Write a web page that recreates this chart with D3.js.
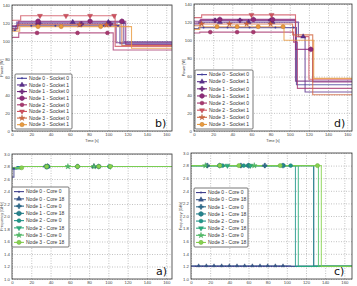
<!DOCTYPE html>
<html><head><meta charset="utf-8">
<script src="https://cdn.jsdelivr.net/npm/d3@7"></script>
<style>body{margin:0;background:#fff}svg{display:block}</style>
</head><body><svg id="c" width="357" height="286"></svg>
<script>
// ---------- labels / ticks ----------
const powerLabels = ["Node 0 - Socket 0","Node 0 - Socket 1","Node 1 - Socket 0","Node 1 - Socket 1","Node 2 - Socket 0","Node 2 - Socket 1","Node 3 - Socket 0","Node 3 - Socket 1"];
const freqLabels = ["Node 0 - Core 0","Node 0 - Core 18","Node 1 - Core 0","Node 1 - Core 18","Node 2 - Core 0","Node 2 - Core 18","Node 3 - Core 0","Node 3 - Core 18"];
const timeTicks = [0,20,40,60,80,100,120,140,160];
const powerTicks = [0,20,40,60,80,100,120,140];
const freqTicks = [1.0,1.2,1.4,1.6,1.8,2.0,2.2,2.4,2.6,2.8,3.0];
const powerColors = ["#45409a","#5b2f8c","#72287f","#8e2b7a","#a8386f","#d0515f","#d2673f","#e99a3e"];
const freqColors = ["#3f3f8c","#38578c","#2f6d8e","#25838d","#1f978a","#2aac7c","#4fc067","#86d24e"];
const markerTypes = ["point","triUp","plus","hex","circle","triDown","star","ring"];

// ---------- panel b) power, step breakpoints [time, W] ----------
const powerB = [
  [[0,112],[4,117],[112,97],[166,97]],
  [[0,116],[5,121],[116,99],[166,99]],
  [[0,114],[6,119],[108,98],[166,98]],
  [[0,117],[7,122],[118,96],[166,96]],
  [[0,104],[7,109],[105,90],[166,90]],
  [[0,123],[9,128],[107,94],[166,94]],
  [[0,113],[6,118],[114,95],[166,95]],
  [[0,111],[8,116],[124,92],[166,92]]
];
const marksB = [[3,20,45,70,95,110],[28,63,100,115],[27,72,102],[27,81,114],[26,68,99],[29,56,81,106],[70,98],[27,51,92]];

// ---------- panel d) power ----------
const powerD = [
  [[0,113],[5,114],[107,51],[166,51]],
  [[0,118],[5,120],[109,104],[116,43],[166,43]],
  [[0,121],[6,122],[106,55],[166,55]],
  [[0,119],[7,123],[106,90],[124,54],[166,54]],
  [[0,108],[6,109],[104,98],[108,47],[166,47]],
  [[0,125],[8,128],[106,104],[120,57],[166,57]],
  [[0,116],[6,118],[103,106],[124,40],[166,40]],
  [[0,112],[6,115],[94,100],[125,58],[166,58]]
];
const marksD = [[10,35,58,85,104],[27,57,82,114],[22,48,80],[27,62,82,122],[17,45,62],[60,81],[8,37,55,80],[24,45,67,93]];

// ---------- panel a) frequency [GHz] ----------
const freqA = [
  [[0,2.63],[2,2.77],[6,2.8],[166,2.8]],
  [[0,2.76],[5,2.8],[166,2.8]],
  [[0,2.77],[7,2.8],[166,2.8]],
  [[0,2.76],[9,2.8],[166,2.8]],
  [[0,2.78],[6,2.8],[166,2.8]],
  [[0,2.77],[10,2.8],[166,2.8]],
  [[0,2.77],[8,2.8],[166,2.8]],
  [[0,2.78],[11,2.8],[166,2.8]]
];
const marksA = [[2,36,58],[37,85],[35,68],[37,90],[68,101],[36,102],[58,85],[10,36,68,90,102]];

// ---------- panel c) frequency ----------
const freqC = [
  [[0,1.2],[168,1.2]],
  [[0,1.21],[104,1.2],[168,1.2]],
  [[0,2.8],[128,1.2],[168,1.2]],
  [[0,2.8],[128,1.2],[168,1.2]],
  [[0,2.8],[109,1.2],[168,1.2]],
  [[0,2.8],[112,1.2],[168,1.2]],
  [[0,2.8],[133,1.2],[168,1.2]],
  [[0,2.8],[136,1.2],[168,1.2]]
];
const marksC = [[5,12,20,28,36,44,52,60,68,76,84,92,100],[8,16,24,32,40,48,56,64,72,80,88,96],[17,52,77],[30,60,96],[33,55,104],[38,62],[15,66],[30,50,93,132]];

// ---------- drawing ----------
const svg = d3.select("#c");
const FONT = "'Liberation Sans', Arial, sans-serif";

function valueAt(series, t){ let v = series[0][1]; for(const p of series){ if(p[0] <= t) v = p[1]; } return v; }

function drawMarker(g, type, color, cx, cy, k){
  k = k || 1;
  const edge = d3.color(color).darker(0.6);
  if(type === "point"){ g.append("circle").attr("cx",cx).attr("cy",cy).attr("r",1.0*k).attr("fill",color); return; }
  if(type === "circle" || type === "ring"){
    g.append("circle").attr("cx",cx).attr("cy",cy).attr("r",(type==="ring"?2.1:1.9)*k).attr("fill",color).attr("stroke",edge).attr("stroke-width",0.5); return; }
  if(type === "hex"){
    const r = 2.5*k, pts = d3.range(6).map(i=>[cx + r*Math.cos(Math.PI/6 + i*Math.PI/3), cy + r*Math.sin(Math.PI/6 + i*Math.PI/3)]);
    g.append("polygon").attr("points", pts.map(p=>p.join(",")).join(" ")).attr("fill",color).attr("stroke",edge).attr("stroke-width",0.5); return; }
  let sym, size = 11, rot = 0;
  if(type === "triUp") sym = d3.symbolTriangle;
  else if(type === "triDown"){ sym = d3.symbolTriangle; rot = 180; }
  else if(type === "plus"){ sym = d3.symbolCross; size = 12; }
  else if(type === "star"){ sym = d3.symbolStar; size = 10; }
  g.append("path").attr("d", d3.symbol(sym, size*k*k)()).attr("transform", `translate(${cx},${cy}) rotate(${rot})`)
    .attr("fill", color).attr("stroke", edge).attr("stroke-width",0.4);
}

function panel(cfg){
  const g = svg.append("g");
  const x = d3.scaleLinear().domain(cfg.xDom).range([cfg.left, cfg.right]);
  const y = d3.scaleLinear().domain(cfg.yDom).range([cfg.bottom, cfg.top]);
  const gx = g.append("g").attr("transform",`translate(0,${cfg.bottom})`)
    .call(d3.axisBottom(x).tickValues(cfg.xTicks).tickSize(-(cfg.bottom-cfg.top)).tickPadding(2).tickFormat(d3.format("d")));
  const gy = g.append("g").attr("transform",`translate(${cfg.left},0)`)
    .call(d3.axisLeft(y).tickValues(cfg.yTicks).tickSize(-(cfg.right-cfg.left)).tickPadding(2).tickFormat(cfg.yFmt));
  [gx,gy].forEach(a=>{
    a.select(".domain").remove();
    a.selectAll(".tick line").attr("stroke","#999").attr("stroke-width",0.6).attr("stroke-dasharray","1,1.5");
    a.selectAll(".tick text").attr("font-size",4.3).attr("font-family",FONT).attr("fill","#444");
  });
  const cid = "clip" + cfg.name;
  g.append("clipPath").attr("id",cid).append("rect").attr("x",cfg.left).attr("y",cfg.top).attr("width",cfg.right-cfg.left).attr("height",cfg.bottom-cfg.top);
  const plot = g.append("g").attr("clip-path",`url(#${cid})`);
  const line = d3.line().x(d=>x(d[0])).y(d=>y(d[1])).curve(d3.curveStepAfter);
  cfg.series.forEach((s,i)=>{
    plot.append("path").attr("d", line(s)).attr("fill","none").attr("stroke",cfg.colors[i]).attr("stroke-width",1.1).attr("stroke-opacity",0.8);
  });
  cfg.series.forEach((s,i)=>{
    const k = (cfg.smallFirst && i < 2) ? 0.7 : 1;
    cfg.marks[i].forEach(t=> drawMarker(plot, markerTypes[i], cfg.colors[i], x(t), y(valueAt(s,t)), k));
  });
  g.append("rect").attr("x",cfg.left).attr("y",cfg.top).attr("width",cfg.right-cfg.left).attr("height",cfg.bottom-cfg.top)
    .attr("fill","none").attr("stroke","#333").attr("stroke-width",0.8);
  g.append("text").attr("transform",`translate(${cfg.left-9},${(cfg.top+cfg.bottom)/2}) rotate(-90)`).attr("text-anchor","middle")
    .attr("font-size",3.8).attr("font-family",FONT).attr("fill","#444").text(cfg.ylabel);
  if(cfg.xlabel){
    g.append("text").attr("x",(cfg.left+cfg.right)/2).attr("y",cfg.bottom+10.5).attr("text-anchor","middle")
      .attr("font-size",3.8).attr("font-family",FONT).attr("fill","#444").text(cfg.xlabel);
  }
  const L = cfg.legend, rowH = (L.h-2)/cfg.labels.length;
  const lg = g.append("g");
  lg.append("rect").attr("x",L.x).attr("y",L.y).attr("width",L.w).attr("height",L.h).attr("rx",1)
    .attr("fill","#fff").attr("stroke","#555").attr("stroke-width",0.8);
  cfg.labels.forEach((lab,i)=>{
    const cy = L.y + 1 + rowH*(i+0.5);
    lg.append("line").attr("x1",L.x+2).attr("x2",L.x+12).attr("y1",cy).attr("y2",cy).attr("stroke",cfg.colors[i]).attr("stroke-width",1.1);
    drawMarker(lg, markerTypes[i], cfg.colors[i], L.x+7, cy, 1);
    lg.append("text").attr("x",L.x+14).attr("y",cy+1.8).attr("font-size",5).attr("font-family",FONT).attr("fill","#333").text(lab);
  });
  g.append("text").attr("x",cfg.letterX).attr("y",cfg.bottom-4).attr("font-size",11).attr("font-family","'DejaVu Sans', sans-serif").attr("fill","#111").text(cfg.letter);
}

panel({name:"b", left:12, right:172, top:5, bottom:131, xDom:[0,166], yDom:[0,140], xTicks:timeTicks, yTicks:powerTicks, yFmt:d3.format("d"),
  series:powerB, marks:marksB, colors:powerColors, labels:powerLabels, ylabel:"Power [W]", xlabel:"Time [s]", legend:{x:15,y:74,w:57,h:55}, letter:"b)", letterX:155});
panel({name:"d", left:194, right:352, top:4, bottom:131, xDom:[0,165], yDom:[0,140], xTicks:timeTicks, yTicks:powerTicks, yFmt:d3.format("d"),
  series:powerD, marks:marksD, colors:powerColors, labels:powerLabels, ylabel:"Power [W]", xlabel:"Time [s]", legend:{x:195,y:70,w:58,h:59}, letter:"d)", letterX:334});
panel({name:"a", left:12, right:172, top:154, bottom:279, xDom:[0,166], yDom:[1.0,3.0], xTicks:timeTicks, yTicks:freqTicks, yFmt:d3.format(".1f"),
  series:freqA, marks:marksA, colors:freqColors, labels:freqLabels, ylabel:"Frequency [GHz]", legend:{x:12,y:187,w:57,h:60}, letter:"a)", letterX:156});
panel({name:"c", left:191, right:352, top:153, bottom:279, xDom:[0,168], yDom:[1.0,3.0], xTicks:timeTicks, yTicks:freqTicks, yFmt:d3.format(".1f"), smallFirst:true,
  series:freqC, marks:marksC, colors:freqColors, labels:freqLabels, ylabel:"Frequency [GHz]", legend:{x:194,y:188,w:54,h:59}, letter:"c)", letterX:334});
</script></body></html>
